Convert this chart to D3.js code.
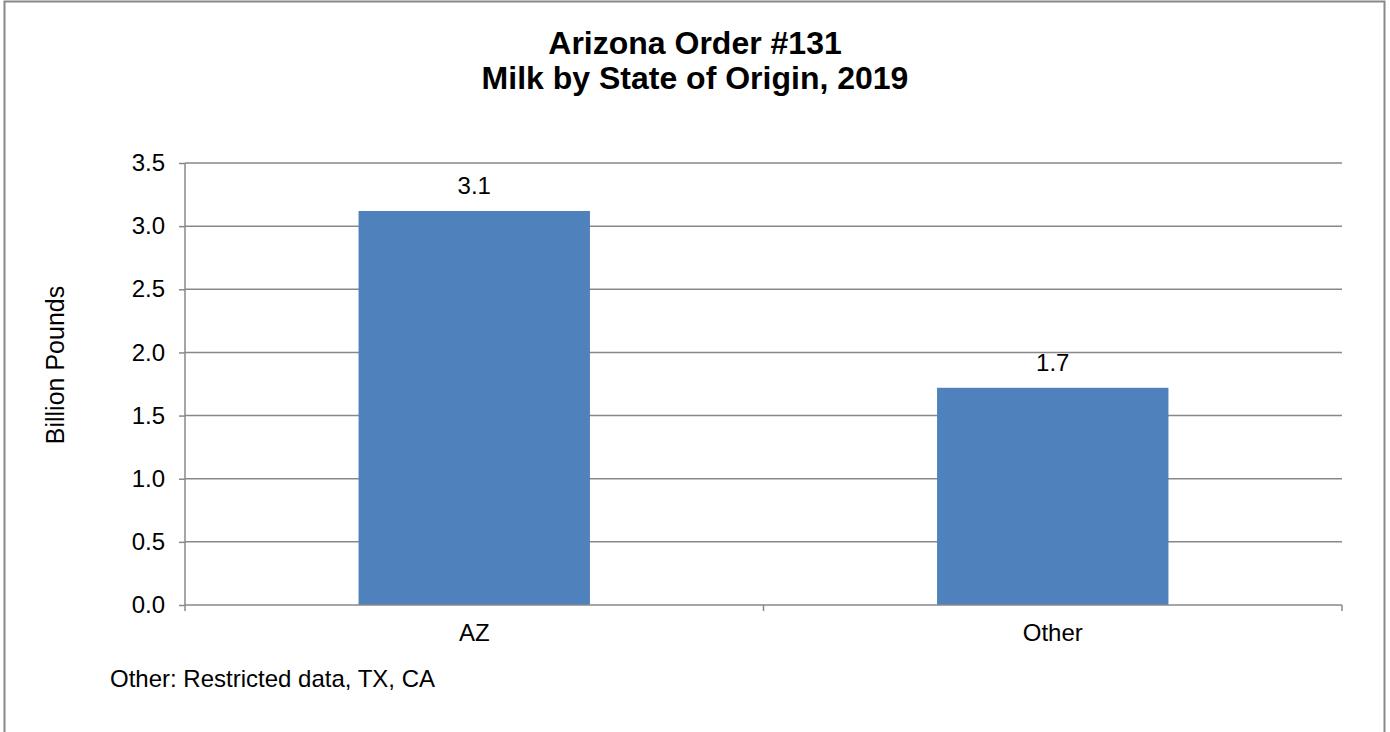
<!DOCTYPE html>
<html>
<head>
<meta charset="utf-8">
<script src="https://cdn.jsdelivr.net/npm/d3@7"></script>
<style>
	body { margin: 0; background: #fff; }
	svg { display: block; font-family: "Liberation Sans", Arial, sans-serif; }
</style>
</head>
<body>
<div id="chart"></div>
<script>
// chart data
var categories = ["AZ", "Other"];
var values = [3.12, 1.72];
var valueLabels = ["3.1", "1.7"];
var yTicks = [0, 0.5, 1.0, 1.5, 2.0, 2.5, 3.0, 3.5];
var titleLines = ["Arizona Order #131", "Milk by State of Origin, 2019"];
var yTitle = "Billion Pounds";
var footnote = "Other: Restricted data, TX, CA";

(function() {
	'use strict';

	var W = 1390, H = 732;
	var grey = "#888888";
	var plot = {left: 185, right: 1342, top: 163, bottom: 605};

	var svg = d3.select("#chart").append("svg")
		.attr("width", W)
		.attr("height", H);

	// outer frame, bottom edge runs off the picture
	svg.append("rect")
		.attr("x", 4.5).attr("y", 1.5)
		.attr("width", 1380).attr("height", 760)
		.attr("fill", "none")
		.attr("stroke", grey)
		.attr("stroke-width", 2);

	var x = d3.scaleBand()
		.domain(categories)
		.range([plot.left, plot.right])
		.paddingInner(0.6)
		.paddingOuter(0.3);

	var y = d3.scaleLinear()
		.domain([0, 3.5])
		.range([plot.bottom, plot.top]);

	// gridlines
	svg.append("g")
		.selectAll("line")
		.data(yTicks.filter(function(d) { return d > 0; }))
		.enter().append("line")
		.attr("x1", plot.left).attr("x2", plot.right)
		.attr("y1", function(d) { return y(d); })
		.attr("y2", function(d) { return y(d); })
		.attr("stroke", grey)
		.attr("stroke-width", 1.5);

	// bars
	svg.append("g")
		.selectAll("rect")
		.data(values)
		.enter().append("rect")
		.attr("x", function(d, i) { return x(categories[i]); })
		.attr("y", function(d) { return y(d); })
		.attr("width", x.bandwidth())
		.attr("height", function(d) { return y(0) - y(d); })
		.attr("fill", "#4f81bd");

	// value labels
	svg.append("g")
		.selectAll("text")
		.data(values)
		.enter().append("text")
		.attr("x", function(d, i) { return x(categories[i]) + x.bandwidth() / 2; })
		.attr("y", function(d) { return y(d) - 17; })
		.attr("text-anchor", "middle")
		.attr("font-size", 24)
		.attr("fill", "#000")
		.text(function(d, i) { return valueLabels[i]; });

	// y axis
	var yAxis = svg.append("g")
		.attr("transform", "translate(" + plot.left + ",0)")
		.call(d3.axisLeft(y).tickValues(yTicks).tickFormat(d3.format(".1f")).tickSize(6).tickPadding(14));
	yAxis.select(".domain").attr("stroke", grey).attr("stroke-width", 1.5).attr("d", "M0," + plot.top + "V" + plot.bottom);
	yAxis.selectAll(".tick line").attr("stroke", grey).attr("stroke-width", 1.5);
	yAxis.selectAll(".tick text").attr("font-size", 24).attr("fill", "#000").attr("font-family", null);

	// x axis: ticks on the category boundaries
	var xAxis = svg.append("g");
	xAxis.append("line")
		.attr("x1", plot.left).attr("x2", plot.right)
		.attr("y1", plot.bottom).attr("y2", plot.bottom)
		.attr("stroke", grey).attr("stroke-width", 1.5);
	var step = (plot.right - plot.left) / categories.length;
	xAxis.selectAll(".xt")
		.data(d3.range(categories.length + 1))
		.enter().append("line")
		.attr("class", "xt")
		.attr("x1", function(i) { return plot.left + i * step; })
		.attr("x2", function(i) { return plot.left + i * step; })
		.attr("y1", plot.bottom).attr("y2", plot.bottom + 6)
		.attr("stroke", grey).attr("stroke-width", 1.5);
	xAxis.selectAll("text")
		.data(categories)
		.enter().append("text")
		.attr("x", function(d) { return x(d) + x.bandwidth() / 2; })
		.attr("y", 641)
		.attr("text-anchor", "middle")
		.attr("font-size", 24)
		.text(function(d) { return d; });

	// y title
	svg.append("text")
		.attr("transform", "translate(64,365) rotate(-90)")
		.attr("text-anchor", "middle")
		.attr("font-size", 25)
		.text(yTitle);

	// chart title
	svg.append("g")
		.selectAll("text")
		.data(titleLines)
		.enter().append("text")
		.attr("x", 695)
		.attr("y", function(d, i) { return 54 + i * 35; })
		.attr("text-anchor", "middle")
		.attr("font-size", 32)
		.attr("font-weight", "bold")
		.text(function(d) { return d; });

	// footnote
	svg.append("text")
		.attr("x", 110).attr("y", 687)
		.attr("font-size", 24)
		.text(footnote);
})();
</script>
</body>
</html>
